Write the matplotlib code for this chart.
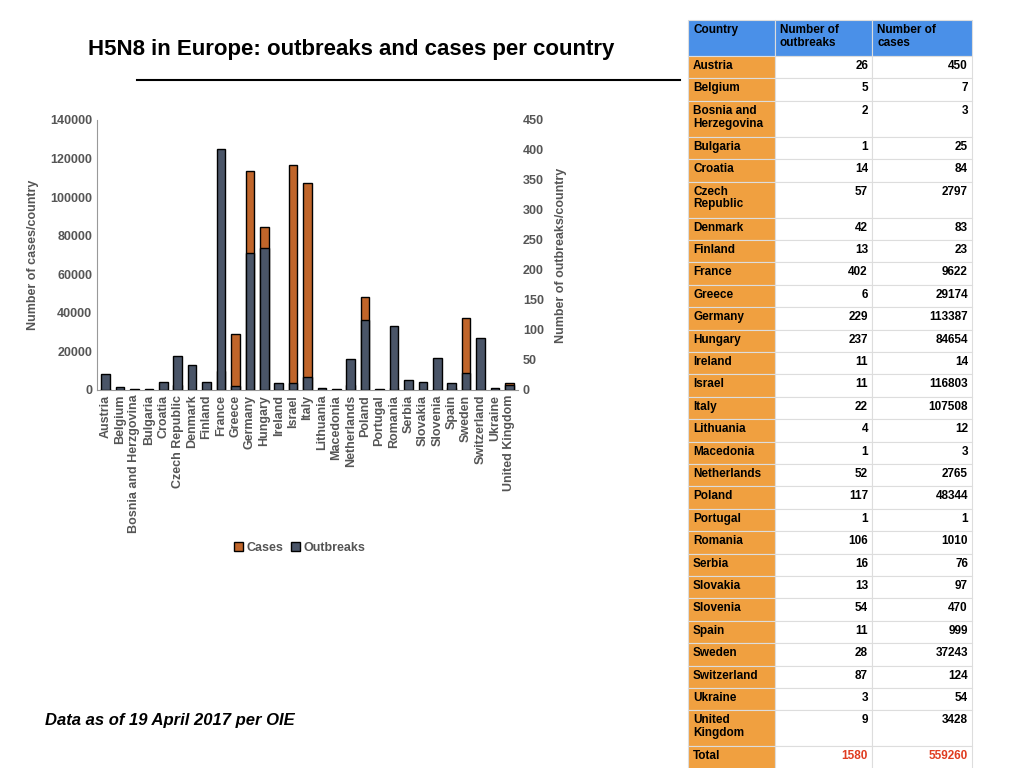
import numpy as np
import matplotlib.pyplot as plt
from matplotlib.patches import Rectangle
from matplotlib.lines import Line2D

countries = ["Austria", "Belgium", "Bosnia and Herzegovina", "Bulgaria", "Croatia",
             "Czech Republic", "Denmark", "Finland", "France", "Greece", "Germany",
             "Hungary", "Ireland", "Israel", "Italy", "Lithuania", "Macedonia",
             "Netherlands", "Poland", "Portugal", "Romania", "Serbia", "Slovakia",
             "Slovenia", "Spain", "Sweden", "Switzerland", "Ukraine", "United Kingdom"]
outbreaks = [26, 5, 2, 1, 14, 57, 42, 13, 402, 6, 229, 237, 11, 11, 22, 4, 1,
             52, 117, 1, 106, 16, 13, 54, 11, 28, 87, 3, 9]
cases = [450, 7, 3, 25, 84, 2797, 83, 23, 9622, 29174, 113387, 84654, 14, 116803,
         107508, 12, 3, 2765, 48344, 1, 1010, 76, 97, 470, 999, 37243, 124, 54, 3428]
chart_labels = [c if c != "Bosnia and Herzegovina" else "Bosnia and Herzgovina" for c in countries]
table_names = [c.replace("Bosnia and Herzegovina", "Bosnia and\nHerzegovina")
               .replace("Czech Republic", "Czech\nRepublic")
               .replace("United Kingdom", "United\nKingdom") for c in countries]

W, H = 1024, 768
fig = plt.figure(figsize=(W / 100, H / 100), dpi=100)
plt.rcParams['font.family'] = ['Liberation Sans', 'DejaVu Sans']

orange = "#c0652a"
slate = "#4a5568"
grey = "#555555"

ax = fig.add_axes([97 / W, 1 - 390 / H, (518 - 97) / W, (390 - 120) / H])
ax2 = ax.twinx()
x = np.arange(len(countries))
ax.bar(x, cases, width=0.6, color=orange, edgecolor="black", linewidth=1)
ax2.bar(x, outbreaks, width=0.6, color=slate, edgecolor="black", linewidth=1)
ax.set_ylim(0, 140000)
ax2.set_ylim(0, 450)
ax.set_xlim(-0.6, len(countries) - 0.4)
ax.set_yticks(range(0, 140001, 20000))
ax2.set_yticks(range(0, 451, 50))
ax.set_xticks(x)
ax.set_xticklabels(chart_labels, rotation=90, fontsize=9, fontweight="bold", color=grey)
for a in (ax, ax2):
    a.tick_params(length=0, labelsize=9, colors=grey)
    for s in a.spines.values():
        s.set_visible(False)
for t in ax.get_yticklabels() + ax2.get_yticklabels():
    t.set_fontweight("bold")
ax.spines["left"].set_visible(True)
ax.spines["bottom"].set_visible(True)
ax.spines["left"].set_color("#999999")
ax.spines["bottom"].set_color("#999999")
ax.set_ylabel("Number of cases/country", fontsize=9, fontweight="bold", color=grey, labelpad=8)
ax2.set_ylabel("Number of outbreaks/country", fontsize=9, fontweight="bold", color=grey, labelpad=8)

handles = [Rectangle((0, 0), 1, 1, fc=orange, ec="black"), Rectangle((0, 0), 1, 1, fc=slate, ec="black")]
fig.legend(handles, ["Cases", "Outbreaks"], loc="center", bbox_to_anchor=(300 / W, 1 - 548 / H),
           ncol=2, frameon=False, fontsize=9, handlelength=0.7, handleheight=0.7,
           columnspacing=0.6, handletextpad=0.3, labelcolor=grey, prop={"weight": "bold", "size": 9})

fig.text(88 / W, 1 - 50 / H, "H5N8 in Europe: outbreaks and cases per country",
         fontsize=16, fontweight="bold", va="center")
fig.add_artist(Line2D([137 / W, 680 / W], [1 - 80 / H] * 2, color="black", lw=1.5))
fig.text(45 / W, 1 - 720 / H, "Data as of 19 April 2017 per OIE",
         fontsize=12, fontweight="bold", style="italic", va="center")

# table
cols = [688, 775, 872, 972]
def cell(x0, x1, y0, y1, fc):
    fig.add_artist(Rectangle((x0 / W, 1 - y1 / H), (x1 - x0) / W, (y1 - y0) / H,
                             transform=fig.transFigure, fc=fc, ec="#dddddd", lw=0.8))

y = 20
hdr = ["Country", "Number of\noutbreaks", "Number of\ncases"]
for i in range(3):
    cell(cols[i], cols[i + 1], y, 56, "#4a90e8")
    fig.text((cols[i] + 5) / W, 1 - (y + 4) / H, hdr[i], fontsize=8.5, fontweight="bold", va="top", linespacing=1.1)
y = 56
rows = list(zip(table_names, outbreaks, cases)) + [("Total", sum(outbreaks), sum(cases))]
for name, o, c in rows:
    h = 36 if "\n" in name else 22.4
    cell(cols[0], cols[1], y, y + h, "#f0a040")
    cell(cols[1], cols[2], y, y + h, "white")
    cell(cols[2], cols[3], y, y + h, "white")
    col = "#e03c20" if name == "Total" else "black"
    fig.text((cols[0] + 5) / W, 1 - (y + 4) / H, name, fontsize=8.5, fontweight="bold", va="top", linespacing=1.1)
    fig.text((cols[2] - 4) / W, 1 - (y + 4) / H, str(o), fontsize=8.5, fontweight="bold", va="top", ha="right", color=col)
    fig.text((cols[3] - 4) / W, 1 - (y + 4) / H, str(c), fontsize=8.5, fontweight="bold", va="top", ha="right", color=col)
    y += h

fig.savefig("out.png", dpi=100)
